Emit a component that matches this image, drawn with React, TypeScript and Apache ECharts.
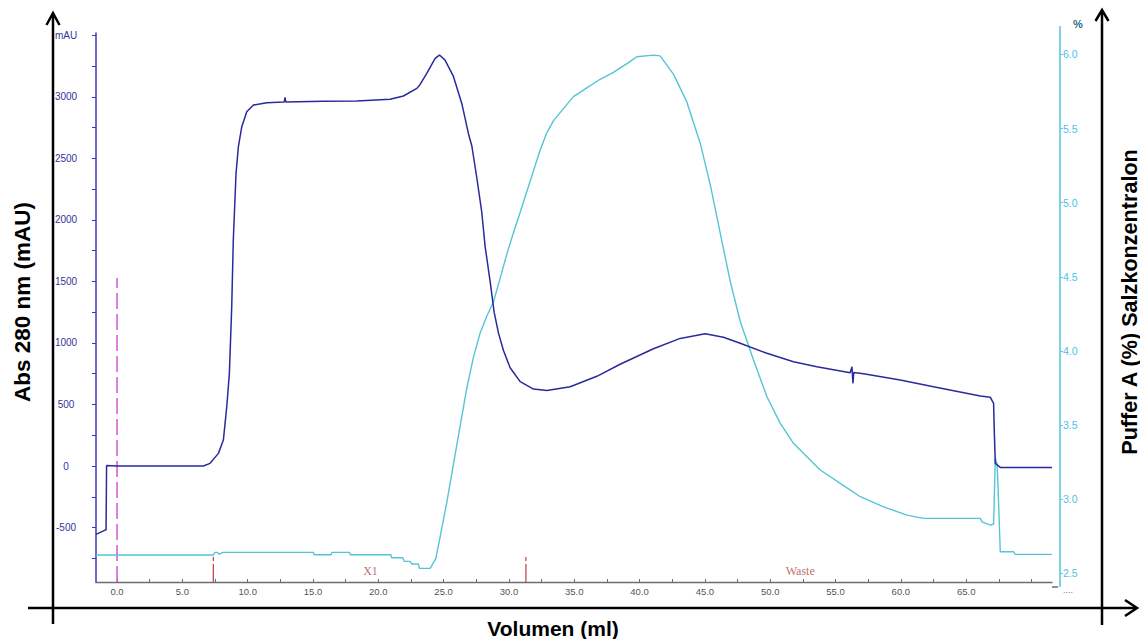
import React, { useEffect, useRef } from "react";
import * as echarts from "echarts";

// UV absorbance at 280 nm (mAU) vs. volume (ml)
const uvVolume = [
  -1.61, -0.92, -0.84, -0.8, 0.0, 5.59, 6.61, 7.12, 7.76, 8.14, 8.4, 8.6, 8.78, 8.9, 9.11, 9.29, 9.55,
  9.93, 10.44, 11.46, 12.8, 12.86, 12.92, 15.8, 18.35, 20.9, 21.92, 22.95, 23.2, 23.71, 24.35, 24.68,
  25.11, 25.75, 26.39, 26.9, 27.16, 27.54, 27.92, 28.18, 28.56, 28.87, 29.2, 29.58, 30.09, 30.86,
  31.88, 32.9, 34.69, 36.73, 38.51, 41.06, 43.11, 45.02, 46.42, 47.7, 49.75, 51.78, 53.57, 56.12,
  56.26, 56.33, 56.4, 57.14, 59.95, 62.5, 66.08, 66.85, 67.1, 67.15, 67.23, 67.61, 71.57,
];
const uvAbs = [
  -555, -520, -520, 5, 0, 0, 0, 22, 103, 211, 482, 755, 1294, 1836, 2380, 2594, 2757,
  2878, 2933, 2952, 2958, 2995, 2958, 2963, 2965, 2979, 3006, 3068, 3100, 3190, 3312, 3339,
  3298, 3165, 2946, 2700, 2600, 2342, 2062, 1781, 1500, 1248, 1080, 939, 799, 686,
  625, 613, 644, 729, 827, 953, 1037, 1074, 1046, 997, 916, 847, 807, 758,
  807, 672, 760, 750, 699, 644, 569, 558, 509, 292, 22, -11, -11,
];

// Buffer A salt concentration (%) vs. volume (ml)
const saltVolume = [
  -1.61, 7.37, 7.5, 7.68, 7.81, 8.09, 15.02, 15.09, 16.39, 16.46, 17.79, 17.86, 20.96, 21.03, 21.88,
  21.98, 22.43, 22.57, 23.07, 23.15, 23.97, 24.4, 24.73, 25.24, 25.75, 26.26, 26.77, 27.28, 27.79,
  28.31, 28.81, 29.33, 29.84, 30.34, 30.86, 31.37, 31.88, 32.39, 32.9, 33.41, 34.17, 34.94, 35.96,
  36.98, 38.0, 39.03, 39.79, 41.06, 41.57, 42.59, 43.61, 44.64, 45.41, 46.17, 46.94, 47.7, 48.72,
  49.75, 50.77, 51.78, 52.81, 53.83, 55.36, 56.89, 58.68, 60.47, 61.74, 66.08, 66.21, 66.85, 67.1,
  67.23, 67.36, 67.43, 67.61, 68.63, 68.76, 71.57,
];
const saltPercent = [
  2.624, 2.624, 2.642, 2.642, 2.628, 2.642, 2.642, 2.626, 2.626, 2.642, 2.642, 2.626, 2.626, 2.606, 2.606,
  2.581, 2.581, 2.563, 2.563, 2.534, 2.534, 2.6, 2.745, 2.978, 3.235, 3.491, 3.747, 3.957, 4.12,
  4.236, 4.33, 4.491, 4.653, 4.796, 4.935, 5.075, 5.215, 5.355, 5.471, 5.553, 5.634, 5.715, 5.774,
  5.832, 5.879, 5.937, 5.984, 5.995, 5.99, 5.867, 5.681, 5.401, 5.121, 4.796, 4.469, 4.2, 3.939,
  3.691, 3.512, 3.377, 3.287, 3.197, 3.107, 3.017, 2.949, 2.893, 2.871, 2.871, 2.848, 2.826, 2.833,
  3.276, 3.242, 3.107, 2.646, 2.646, 2.628, 2.628,
];

// Axis ticks / labels
const xLabelValues = [0, 5, 10, 15, 20, 25, 30, 35, 40, 45, 50, 55, 60, 65];
const xTickValues = [0, 2.5, 5, 7.5, 10, 12.5, 15, 17.5, 20, 22.5, 25, 27.5, 30, 32.5, 35, 37.5, 40, 42.5, 45, 47.5, 50, 52.5, 55, 57.5, 60, 62.5, 65, 67.5, 70];
const absLabelValues = [-500, 0, 500, 1000, 1500, 2000, 2500, 3000, 3500];
const absTickValues = [-750, -500, -250, 0, 250, 500, 750, 1000, 1250, 1500, 1750, 2000, 2250, 2500, 2750, 3000, 3250, 3500];
const pctLabelValues = [2.5, 3.0, 3.5, 4.0, 4.5, 5.0, 5.5, 6.0];

// Fraction markers
const fractionMarkVolumes = [7.37, 31.3];
const fractionMarkTops = [-723, -731];
const fractionNames = ["X1", "Waste"];
const fractionNameVolumes = [19.4, 52.3];
const fractionNameLevel = -851;
// Injection marker (dashed)
const injectionVolume = 0;
const injectionTop = 1527;

const X_MIN = -1.61;
const X_MAX = 71.57;
const ABS_MIN = -942;
const ABS_MAX = 3518;
const PCT_MIN = 2.442;
const PCT_MAX = 6.144;

const NAVY = "#2a2a9c";
const CYAN = "#55c4d6";
const BLACK = "#000";

export default function App() {
  const ref = useRef<HTMLDivElement>(null);

  useEffect(() => {
    if (!ref.current) return;
    const chart = echarts.init(ref.current, undefined, { renderer: "svg" });

    const uvData = uvVolume.map((v, i) => [v, uvAbs[i]]);
    const saltData = saltVolume.map((v, i) => [v, saltPercent[i]]);

    const fractionSeries = fractionMarkVolumes.map((v, i) => ({
      type: "line",
      yAxisIndex: 0,
      data: [
        [v, ABS_MIN],
        [v, fractionMarkTops[i]],
      ],
      showSymbol: false,
      silent: true,
      lineStyle: { color: "#b83c3c", width: 1.2, type: [18, 3, 4, 3] },
      z: 4,
    }));

    const arrowStyle = { stroke: BLACK, lineWidth: 2.5, fill: "none" };
    const sideTitleFont = "bold 22.5px 'Liberation Sans', Arial, sans-serif";
    const rightTitleFont = "bold 21.6px 'Liberation Sans', Arial, sans-serif";
    const xTitleFont = "bold 21px 'Liberation Sans', Arial, sans-serif";

    const option: any = {
      animation: false,
      backgroundColor: "#ffffff",
      grid: { left: 96, right: 88, top: 33, bottom: 57, containLabel: false },
      xAxis: {
        type: "value",
        min: X_MIN,
        max: X_MAX,
        axisLine: { show: true, onZero: false, lineStyle: { color: "#6e6e6e", width: 1.3 } },
        axisTick: {
          show: true,
          inside: true,
          length: 3,
          customValues: xTickValues,
          lineStyle: { color: "#6e6e6e" },
        },
        axisLabel: {
          customValues: xLabelValues,
          formatter: (v: number) => v.toFixed(1),
          color: "#555",
          fontSize: 9.5,
          margin: 4,
          fontFamily: "'Liberation Sans', Arial, sans-serif",
        },
        splitLine: { show: false },
      },
      yAxis: [
        {
          type: "value",
          min: ABS_MIN,
          max: ABS_MAX,
          position: "left",
          axisLine: { show: true, onZero: false, lineStyle: { color: "#3a3ab8", width: 1.5 } },
          axisTick: {
            show: true,
            length: 4,
            customValues: absTickValues,
            lineStyle: { color: "#3a3ab8" },
          },
          axisLabel: {
            customValues: absLabelValues,
            formatter: (v: number) => (v === 3500 ? "mAU" : String(v)),
            color: "#34349a",
            fontSize: 10,
            align: "center",
            margin: 30,
            fontFamily: "'Liberation Sans', Arial, sans-serif",
          },
          splitLine: { show: false },
        },
        {
          type: "value",
          min: PCT_MIN,
          max: PCT_MAX,
          position: "right",
          offset: 8,
          axisLine: { show: true, onZero: false, lineStyle: { color: "#5cc8e2", width: 1.6 } },
          axisTick: {
            show: true,
            length: 3,
            customValues: pctLabelValues,
            lineStyle: { color: "#5cc8e2" },
          },
          axisLabel: {
            customValues: pctLabelValues,
            formatter: (v: number) => v.toFixed(1),
            color: "#4fc0e6",
            fontSize: 10.5,
            margin: 3,
            fontFamily: "'Liberation Sans', Arial, sans-serif",
          },
          splitLine: { show: false },
        },
      ],
      series: [
        {
          name: "Injection",
          type: "line",
          yAxisIndex: 0,
          data: [
            [injectionVolume, ABS_MIN],
            [injectionVolume, injectionTop],
          ],
          showSymbol: false,
          silent: true,
          lineStyle: { color: "#d257d2", width: 1.5, type: [16, 5] },
          z: 1,
        },
        ...fractionSeries,
        {
          name: "Salt",
          type: "line",
          yAxisIndex: 1,
          data: saltData,
          showSymbol: false,
          lineStyle: { color: CYAN, width: 1.4 },
          z: 2,
        },
        {
          name: "UV",
          type: "line",
          yAxisIndex: 0,
          data: uvData,
          showSymbol: false,
          lineStyle: { color: NAVY, width: 1.5 },
          z: 3,
        },
        {
          name: "Fractions",
          type: "scatter",
          yAxisIndex: 0,
          symbolSize: 1,
          itemStyle: { color: "rgba(0,0,0,0)" },
          data: fractionNames.map((n, i) => ({ name: n, value: [fractionNameVolumes[i], fractionNameLevel] })),
          label: {
            show: true,
            position: "inside",
            formatter: "{b}",
            color: "#b04646",
            fontSize: 12,
            fontFamily: "'Liberation Serif', 'Times New Roman', serif",
          },
          silent: true,
        },
      ],
      graphic: [
        // left arrow
        { type: "line", shape: { x1: 53, y1: 624, x2: 53, y2: 14 }, style: arrowStyle },
        { type: "polyline", shape: { points: [[46.5, 25], [53, 13], [59.5, 25]] }, style: arrowStyle },
        // bottom arrow
        { type: "line", shape: { x1: 28, y1: 608, x2: 1136, y2: 608 }, style: arrowStyle },
        { type: "polyline", shape: { points: [[1125, 600], [1137, 608], [1125, 616]] }, style: arrowStyle },
        // right arrow
        { type: "line", shape: { x1: 1102, y1: 625, x2: 1102, y2: 11 }, style: arrowStyle },
        { type: "polyline", shape: { points: [[1095.5, 21], [1102, 10], [1108.5, 21]] }, style: arrowStyle },
        // right axis extensions
        { type: "line", shape: { x1: 1060, y1: 26, x2: 1060, y2: 33 }, style: { stroke: "#5cc8e2", lineWidth: 1.6 } },
        { type: "line", shape: { x1: 1060, y1: 582, x2: 1060, y2: 587 }, style: { stroke: "#5cc8e2", lineWidth: 1.6 } },
        { type: "line", shape: { x1: 1052, y1: 587, x2: 1058, y2: 587 }, style: { stroke: "#444", lineWidth: 1.2 } },
        {
          type: "text",
          x: 1068,
          y: 590,
          style: { text: "....", fill: "#777", font: "9px 'Liberation Sans', Arial", textAlign: "center", textVerticalAlign: "middle" },
        },
        {
          type: "text",
          x: 1078,
          y: 24,
          style: { text: "%", fill: "#1f6c8c", font: "bold 11px 'Liberation Sans', Arial", textAlign: "center", textVerticalAlign: "middle" },
        },
        // titles
        {
          type: "text",
          x: 22,
          y: 302,
          rotation: Math.PI / 2,
          style: { text: "Abs 280 nm (mAU)", fill: BLACK, font: sideTitleFont, textAlign: "center", textVerticalAlign: "middle" },
        },
        {
          type: "text",
          x: 553,
          y: 628,
          style: { text: "Volumen (ml)", fill: BLACK, font: xTitleFont, textAlign: "center", textVerticalAlign: "middle" },
        },
        {
          type: "text",
          x: 1129,
          y: 302,
          rotation: Math.PI / 2,
          style: { text: "Puffer A (%) Salzkonzentralon", fill: BLACK, font: rightTitleFont, textAlign: "center", textVerticalAlign: "middle" },
        },
      ],
    };

    chart.setOption(option);
    return () => chart.dispose();
  }, []);

  return (
    <div
      ref={ref}
      style={{ position: "absolute", left: 0, top: 0, width: 1140, height: 639, background: "#fff" }}
    />
  );
}
